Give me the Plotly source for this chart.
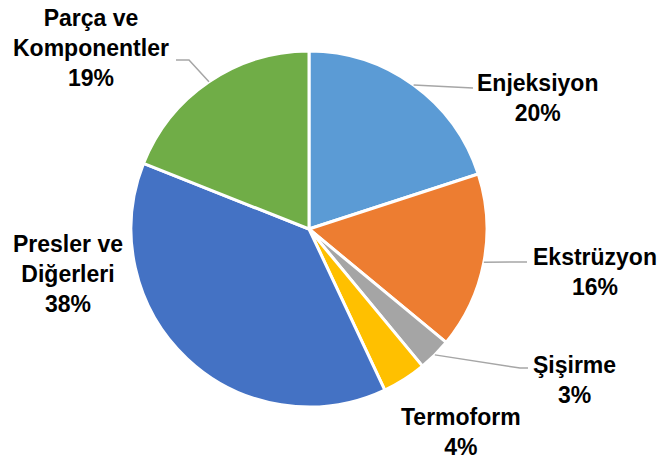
import math
import plotly.graph_objects as go

# ---- data ----
labels = ["Enjeksiyon", "Ekstrüzyon", "Şişirme", "Termoform", "Presler ve\nDiğerleri", "Parça ve\nKomponentler"]
values = [20, 16, 3, 4, 38, 19]
colors = ["#5B9BD5", "#ED7D31", "#A5A5A5", "#FFC000", "#4472C4", "#70AD47"]

# ---- layout / style (pixels) ----
W, H = 657, 460
CX, CY, R = 309, 229, 178
FONT = "Liberation Sans"
FSIZE = 23
# text block centres (px)
label_pos = [(537, 98), (595, 272), (574, 380), (461, 432), (68, 274), (91, 48)]
# leader-line bend / end points (px); None = no leader line
leader = [
    [(473, 88)],
    [(517, 262), (527, 262)],
    [(520, 368), (528, 368)],
    None,
    None,
    [(189, 60), (176, 60)],
]


def px(x, y):
    return x / W, 1 - y / H


fig = go.Figure(go.Pie(
    labels=[l.replace("\n", " ") for l in labels],
    values=values,
    sort=False,
    direction="clockwise",
    rotation=0,
    marker=dict(colors=colors, line=dict(color="white", width=3)),
    textinfo="none",
    hoverinfo="label+percent",
    showlegend=False,
    domain=dict(x=[(CX - R) / W, (CX + R) / W], y=[1 - (CY + R) / H, 1 - (CY - R) / H]),
))

total = sum(values)
cum = 0
shapes, annotations = [], []
for i, v in enumerate(values):
    mid = (cum + v / 2) / total * 2 * math.pi
    cum += v
    sx, sy = CX + R * math.sin(mid), CY - R * math.cos(mid)
    if leader[i]:
        pts = [(sx, sy)] + leader[i]
        path = "M " + " L ".join(f"{px(x, y)[0]:.5f},{px(x, y)[1]:.5f}" for x, y in pts)
        shapes.append(dict(type="path", path=path, xref="paper", yref="paper",
                           line=dict(color="#A6A6A6", width=1.5)))
    tx, ty = px(*label_pos[i])
    annotations.append(dict(
        text=labels[i].replace("\n", "<br>") + f"<br>{v}%",
        x=tx, y=ty, xref="paper", yref="paper", xanchor="center", yanchor="middle",
        showarrow=False, align="center",
        font=dict(family=FONT, size=FSIZE, color="#000000", weight="bold"),
    ))

fig.update_layout(
    width=W, height=H,
    margin=dict(l=0, r=0, t=0, b=0),
    paper_bgcolor="white", plot_bgcolor="white",
    shapes=shapes, annotations=annotations,
)
fig.write_html("out.html", config={"displayModeBar": False},
               post_script="document.body.style.margin='0';")
